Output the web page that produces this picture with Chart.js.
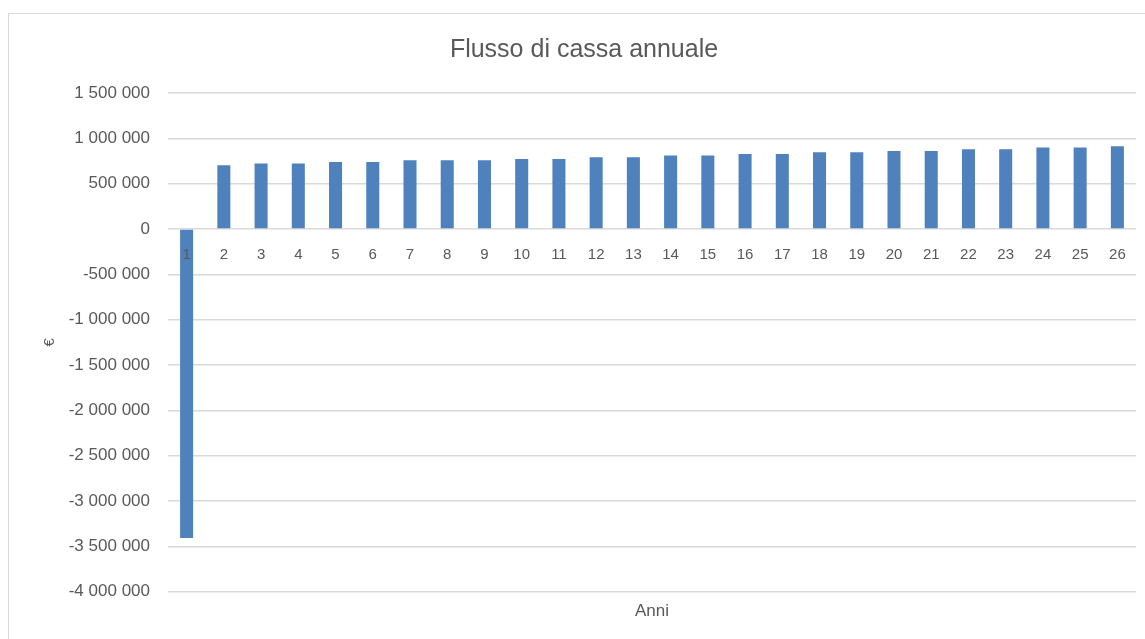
<!DOCTYPE html>
<html>
<head>
<meta charset="utf-8">
<script src="https://cdn.jsdelivr.net/npm/chart.js@4"></script>
<style>
  body { margin: 0; background: #fff; overflow: hidden; }
  #frame { position: absolute; left: 8px; top: 13px; width: 1200px; height: 700px; border: 1.5px solid #d9d9d9; }
  #wrap { position: absolute; left: 0; top: 0; width: 1145px; height: 639px; }
</style>
</head>
<body>
<div id="frame"></div>
<div id="wrap"><canvas id="cashChart"></canvas></div>
<script>
var years = ['1', '2', '3', '4', '5', '6', '7', '8', '9', '10', '11', '12', '13',
             '14', '15', '16', '17', '18', '19', '20', '21', '22', '23', '24', '25', '26'];
var cashFlow = [-3410000, 704000, 722000, 722000, 740000, 740000, 759000, 759000, 759000,
                773000, 773000, 792000, 792000, 810000, 810000, 828000, 828000, 847000,
                847000, 861000, 861000, 880000, 880000, 898000, 898000, 913000];
var yMin = -4000000;
var yMax = 1500000;
var yStep = 500000;

function formatEuro(v) {
    var s = String(Math.abs(v)).replace(/\B(?=(\d{3})+(?!\d))/g, ' ');
    return v < 0 ? '-' + s : s;
}

document.addEventListener('DOMContentLoaded', function () {
    var ctx = document.getElementById('cashChart').getContext('2d');
    var grey = '#595959';

    new Chart(ctx, {
        type: 'bar',
        data: {
            labels: years,
            datasets: [{
                data: cashFlow,
                backgroundColor: '#4f81bd',
                categoryPercentage: 1,
                barPercentage: 0.35
            }]
        },
        options: {
            responsive: true,
            maintainAspectRatio: false,
            animation: false,
            layout: { padding: { left: 32, right: 9, top: 0, bottom: 0 } },
            plugins: {
                legend: { display: false },
                tooltip: { enabled: false },
                title: {
                    display: true,
                    text: 'Flusso di cassa annuale',
                    color: grey,
                    font: { family: 'Liberation Sans', size: 25, weight: 'normal' },
                    padding: { top: 35, bottom: 28 }
                }
            },
            scales: {
                x: {
                    position: { y: 0 },
                    grid: { display: false, drawTicks: false },
                    border: { display: false },
                    ticks: {
                        z: 1,
                        color: grey,
                        font: { family: 'Liberation Sans', size: 15 },
                        padding: 17,
                        maxRotation: 0,
                        autoSkip: false
                    }
                },
                xTitle: {
                    type: 'category',
                    position: 'bottom',
                    grid: { display: false, drawTicks: false },
                    border: { display: false },
                    ticks: { display: false },
                    title: {
                        display: true,
                        text: 'Anni',
                        color: grey,
                        font: { family: 'Liberation Sans', size: 17 },
                        padding: { top: 10, bottom: 17 }
                    }
                },
                y: {
                    min: yMin,
                    max: yMax,
                    grid: { color: '#d9d9d9', lineWidth: 1.5, drawTicks: false },
                    border: { display: false },
                    ticks: {
                        stepSize: yStep,
                        color: grey,
                        padding: 18,
                        font: { family: 'Liberation Sans', size: 17 },
                        callback: function (v) { return formatEuro(v); }
                    },
                    title: {
                        display: true,
                        text: '€',
                        color: grey,
                        font: { family: 'Liberation Sans', size: 15 },
                        padding: { top: 9, bottom: 0 }
                    },
                    afterFit: function (scale) { scale.width = 136; }
                }
            }
        }
    });
});
</script>
</body>
</html>
